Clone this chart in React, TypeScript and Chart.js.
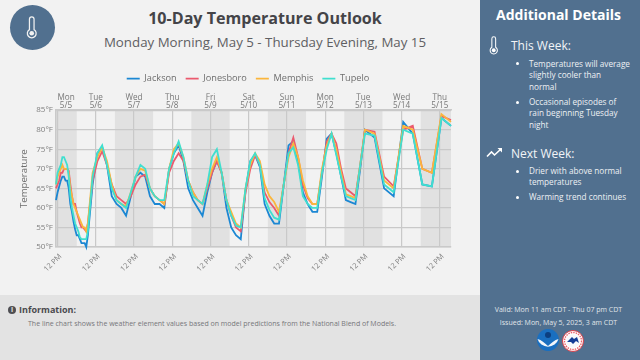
import React, { useEffect, useRef } from "react";
import { Chart, registerables } from "chart.js";

Chart.register(...registerables);

const FONT = '"Open Sans", sans-serif';

// Hours relative to Monday 12 PM
const hours = [
  -1, 0, 1, 2, 3, 4, 5, 6, 7, 8, 9, 10, 11, 12, 13, 14, 15, 16, 17, 18, 19,
  22, 25, 28, 31, 34, 37, 40, 43, 46, 49, 52, 55, 58, 61, 64, 67, 70, 73, 76, 79, 82, 85, 88, 91, 94, 97, 100, 103, 106, 109, 112, 115,
  118, 121, 124, 127, 130, 133, 136, 139, 142, 145, 148, 151, 154, 157, 160, 163, 166, 169, 172, 175, 178, 181, 184, 187, 190, 193,
  199, 205, 211, 217, 223, 229, 235, 241, 247,
];

const jackson = [
  62, 64, 65.5, 67, 68, 68, 67, 67, 65, 61, 59, 56.5, 54.5, 53, 53, 52, 51, 51, 51, 50, 53,
  66, 74, 75.5, 71, 63, 61, 60, 58, 63, 68, 69, 68, 63, 61, 61, 60, 70, 74, 76, 72, 65, 62, 60, 58, 64, 69, 72, 69, 60, 55, 53, 52,
  64.5, 72, 73.5, 70.5, 61, 58, 56, 56, 66, 76, 77, 72, 64, 61, 59, 59, 68, 77.7, 79, 74, 68, 62, 61.5, 61, 70, 80,
  78, 65, 63, 82, 79, 66, 65.5, 83, 81,
];
const jonesboro = [
  65, 66, 67, 69, 69, 70, 70, 70, 69.5, 66, 63, 61, 61, 59, 57.5, 56, 55, 55, 54.5, 54, 56,
  67, 72, 74.5, 71, 66, 63, 62, 61, 63, 66, 68, 68.5, 65, 63, 62, 61, 69, 72, 74, 72, 67, 64, 62, 61, 65, 69, 72, 69, 62, 58, 55, 54,
  64, 70, 73.5, 71, 64, 61.5, 60, 58, 66, 74, 78, 73, 66, 62.5, 61, 61, 69, 77, 79, 76.5, 70, 65, 64, 63, 71, 80,
  79.5, 68, 65.5, 80, 81, 70, 69, 83.5, 82.5,
];
const memphis = [
  66, 68, 69, 70, 71, 70, 70, 70, 69, 65, 63, 61, 60, 59, 58, 57, 56, 55, 55, 54, 56,
  69, 73, 75.5, 72, 66, 62, 61, 60.5, 64, 68, 70, 69.5, 65, 63, 62, 61, 70, 75, 76.5, 73, 67, 64, 62, 61, 66, 70, 73, 69, 62, 59, 56, 55,
  65, 71, 74, 72, 66, 63, 61.5, 59, 66, 73, 76.5, 73, 67, 63, 61, 61, 70, 76, 79, 75, 69, 63.5, 63, 62.5, 71, 80,
  79, 67, 65, 81, 80, 70, 69, 84, 82,
];
const tupelo = [
  66, 69, 70, 71, 73, 73, 72, 71, 68, 63, 60, 58, 56, 55, 54, 52.5, 52, 52, 52, 52, 54,
  68, 74, 76, 71, 65, 62, 61, 60, 64, 68, 71, 70, 65, 63, 62, 62, 70, 74, 77, 73, 67, 63, 62, 61, 66, 73, 75, 69, 62, 58, 55.5, 55,
  65, 72, 74, 71, 62.5, 59.5, 57.5, 57, 66, 74, 75.5, 71, 63, 61, 60, 60, 69, 75, 79, 73.5, 68, 63, 62.5, 62, 71, 79,
  78.5, 66, 64, 80, 79, 66, 65.5, 83, 81,
];

const seriesNames = ["Jackson", "Jonesboro", "Memphis", "Tupelo"];
const seriesColors = ["#1b87d3", "#eb5a6e", "#fbb63c", "#40dfcf"];
const seriesValues = [jackson, jonesboro, memphis, tupelo];

const noonHours = [0, 24, 48, 72, 96, 120, 144, 168, 192, 216, 240];
const dayNames = ["Mon", "Tue", "Wed", "Thu", "Fri", "Sat", "Sun", "Mon", "Tue", "Wed", "Thu"];
const dayDates = ["5/5", "5/6", "5/7", "5/8", "5/9", "5/10", "5/11", "5/12", "5/13", "5/14", "5/15"];
const nightBands = [[-1, 12], [36, 60], [84, 108], [132, 156], [180, 204], [228, 247]];
const xMin = -1;
const xMax = 247;
const yTicks = [50, 55, 60, 65, 70, 75, 80, 85];

const shadePlugin = {
  id: "nightShade",
  afterLayout(chart: any) {
    if (chart.legend) chart.legend.right = chart.width;
  },
  beforeDraw(chart: any) {
    const { ctx, chartArea, scales } = chart;
    ctx.save();
    ctx.fillStyle = "#e1e1e1";
    for (const [a, b] of nightBands) {
      const x0 = scales.x.getPixelForValue(a);
      const x1 = scales.x.getPixelForValue(b);
      ctx.fillRect(x0, chartArea.top, x1 - x0, chartArea.bottom - chartArea.top);
    }
    ctx.restore();
  },
};

function Thermometer({ x, y, h, color, hole }: any) {
  const s = h / 24;
  return (
    <svg style={{ position: "absolute", left: x, top: y }} width={12 * s} height={24 * s} viewBox="0 0 12 24">
      <path
        d="M3.6 14.2V3.4a2.4 2.4 0 0 1 4.8 0v10.8a4.6 4.6 0 1 1-4.8 0z"
        fill="none"
        stroke={color}
        strokeWidth="1.3"
      />
      <circle cx="6" cy="18" r="2.4" fill={hole ?? color} />
    </svg>
  );
}

function T({ x, y, w, size, color, bold, align, children }: any) {
  return (
    <div
      style={{
        position: "absolute",
        left: x,
        top: y,
        width: w,
        fontFamily: FONT,
        fontSize: size,
        lineHeight: "1",
        color,
        fontWeight: bold ? 700 : 400,
        textAlign: align ?? "left",
        whiteSpace: "nowrap",
      }}
    >
      {children}
    </div>
  );
}

const bulletLines: [string, number][] = [
  ["Temperatures will average", 59.5],
  ["slightly cooler than", 71],
  ["normal", 82.5],
  ["Occasional episodes of", 97.5],
  ["rain beginning Tuesday", 109],
  ["night", 120.5],
  ["Drier with above normal", 166.5],
  ["temperatures", 178],
  ["Warming trend continues", 193],
];
const bulletDots = [62, 101, 170, 196];

export default function App() {
  const ref = useRef<HTMLCanvasElement>(null);
  useEffect(() => {
    const chart = new Chart(ref.current!, {
      type: "line",
      plugins: [shadePlugin],
      data: {
        datasets: seriesNames.map((name, i) => ({
          label: name,
          data: hours.map((h, j) => ({ x: h, y: seriesValues[i][j] })),
          borderColor: seriesColors[i],
          backgroundColor: seriesColors[i],
          borderWidth: 1.8,
          pointRadius: 0,
          tension: 0,
          order: 4 - i,
          clip: false,
        })),
      } as any,
      options: {
        animation: false,
        responsive: false,
        layout: { padding: { top: 6, right: 29, bottom: 0, left: 0 } },
        plugins: {
          tooltip: { enabled: false },
          legend: {
            position: "top",
            labels: {
              usePointStyle: true,
              pointStyle: "line",
              pointStyleWidth: 13,
              boxHeight: 8,
              padding: 9,
              color: "#6e6e6e",
              font: { family: FONT, size: 9.2 },
              sort: (a: any, b: any) => a.datasetIndex - b.datasetIndex,
            },
          },
        },
        scales: {
          x: {
            type: "linear",
            min: xMin,
            max: xMax,
            afterBuildTicks: (s: any) => {
              s.ticks = noonHours.map((value) => ({ value }));
            },
            afterFit: (s: any) => {
              s.height = 33;
            },
            grid: { color: "#c9c9c9", lineWidth: 1.2, drawTicks: false },
            border: { color: "#c9c9c9", width: 1.5 },
            ticks: {
              autoSkip: false,
              minRotation: 45,
              maxRotation: 45,
              padding: 5,
              labelOffset: 3,
              color: "#808080",
              font: { family: FONT, size: 7.5 },
              callback: () => "12 PM",
            },
          },
          x2: {
            type: "linear",
            position: "top",
            min: xMin,
            max: xMax,
            afterBuildTicks: (s: any) => {
              const inset = 5.3;
              s.ticks = noonHours.map((value) => ({
                value: Math.min(xMax - 6.8, Math.max(xMin + inset + 1, value)),
              }));
            },
            afterFit: (s: any) => {
              s.height = 17;
            },
            grid: { display: false, drawTicks: false },
            border: { color: "#c9c9c9", width: 1.5 },
            ticks: {
              autoSkip: false,
              maxRotation: 0,
              minRotation: 0,
              padding: 1,
              color: "#777777",
              font: { family: FONT, size: 8.2, lineHeight: 0.92 },
              callback: (_v: any, i: number) => [dayNames[i], dayDates[i]],
            },
          },
          y: {
            type: "linear",
            min: 50,
            max: 85,
            afterBuildTicks: (s: any) => {
              s.ticks = yTicks.map((value) => ({ value }));
            },
            afterFit: (s: any) => {
              s.width = 40;
            },
            grid: { color: "#c9c9c9", lineWidth: 1.2, drawTicks: false },
            border: { color: "#c9c9c9", width: 1.5 },
            title: {
              display: true,
              text: "Temperature",
              color: "#6e6e6e",
              padding: { top: 3, bottom: 0 },
              font: { family: FONT, size: 9.6 },
            },
            ticks: {
              padding: 3,
              color: "#808080",
              font: { family: FONT, size: 8 },
              callback: (v: any) => `${v}°F`,
            },
          },
        },
      } as any,
    });
    return () => chart.destroy();
  }, []);

  return (
    <div
      style={{
        position: "fixed",
        left: 0,
        top: 0,
        width: 640,
        height: 360,
        overflow: "hidden",
        background: "#f2f2f2",
      }}
    >
      <div style={{ position: "absolute", left: 9.5, top: 4.5, width: 45, height: 45, borderRadius: "50%", background: "#51708f" }} />
      <Thermometer x={26} y={16} h={23} color="#f2f2f2" />
      <T x={50} y={9.5} w={430} size={16.1} color="#444448" bold align="center">10-Day Temperature Outlook</T>
      <T x={50} y={36} w={430} size={13.3} color="#5f5f63" align="center">Monday Morning, May 5 - Thursday Evening, May 15</T>

      <canvas ref={ref} width={464} height={221} style={{ position: "absolute", left: 16, top: 59 }} />

      <div style={{ position: "absolute", left: 0, top: 295, width: 480, height: 65, background: "#e3e3e3" }} />
      <div style={{ position: "absolute", left: 8, top: 306, width: 8, height: 8, borderRadius: "50%", background: "#4e4e52", color: "#e3e3e3", fontFamily: FONT, fontSize: 7, lineHeight: "8px", fontWeight: 700, textAlign: "center" }}>i</div>
      <T x={19} y={305} size={9} color="#4a4a4e" bold>Information:</T>
      <T x={28} y={320} size={7} color="#76767a">The line chart shows the weather element values based on model predictions from the National Blend of Models.</T>

      <div style={{ position: "absolute", left: 480, top: 0, width: 160, height: 360, background: "#51708f" }} />
      <T x={480} y={8} w={157} size={14} color="#ffffff" bold align="center">Additional Details</T>
      <Thermometer x={489} y={36} h={19} color="#ffffff" />
      <T x={511} y={39.5} size={12} color="#f2f4f7">This Week:</T>
      <svg style={{ position: "absolute", left: 486, top: 147 }} width={17} height={12} viewBox="0 0 17 12">
        <path d="M1 9.5 5.5 5l3 3L15 2" fill="none" stroke="#fff" strokeWidth="1.6" />
        <path d="M11.5 1H16v4.500z" fill="#fff" />
      </svg>
      <T x={511} y={147.5} size={12} color="#f2f4f7">Next Week:</T>
      {bulletLines.map(([t, y]) => (
        <T key={t} x={529} y={y} size={8.2} color="#eef1f4">{t}</T>
      ))}
      {bulletDots.map((y) => (
        <div key={y} style={{ position: "absolute", left: 516, top: y, width: 3, height: 3, borderRadius: "50%", background: "#fff" }} />
      ))}
      <T x={480} y={305.5} w={157} size={7} color="#e0e5ea" align="center">Valid: Mon 11 am CDT - Thu 07 pm CDT</T>
      <T x={480} y={318.5} w={157} size={7} color="#e0e5ea" align="center">Issued: Mon, May 5, 2025, 3 am CDT</T>

      <svg style={{ position: "absolute", left: 537, top: 329 }} width={22} height={22} viewBox="0 0 22 22">
        <circle cx="11" cy="11" r="11" fill="#1a6fc0" />
        <path d="M0.500 10c4 1 7 4 10.500 7 3.500-3 6.500-6 10.500-7a11 11 0 0 1-21 0z" fill="#f2f6fa" />
        <path d="M3 16c2.500 3.500 5 5 8 6 3-1 5.500-2.500 8-6-3 1-5.500 2.500-8 5-2.500-2.500-5-4-8-5z" fill="#1a6fc0" />
        <circle cx="11" cy="6" r="3" fill="#0c3f80" />
      </svg>
      <svg style={{ position: "absolute", left: 561.5, top: 330 }} width={22} height={22} viewBox="0 0 22 22">
        <circle cx="11" cy="11" r="10.500" fill="#ffffff" stroke="#d8404a" strokeWidth="1" />
        <circle cx="11" cy="11" r="8.500" fill="none" stroke="#e8606a" strokeWidth="1.4" strokeDasharray="1.5 1" />
        <circle cx="11" cy="11" r="6.800" fill="#f6f8fb" />
        <path d="M5 12 10 7l2 2 3-2 2 6-3-2-3 3-2-2z" fill="#123c96" />
      </svg>
    </div>
  );
}
